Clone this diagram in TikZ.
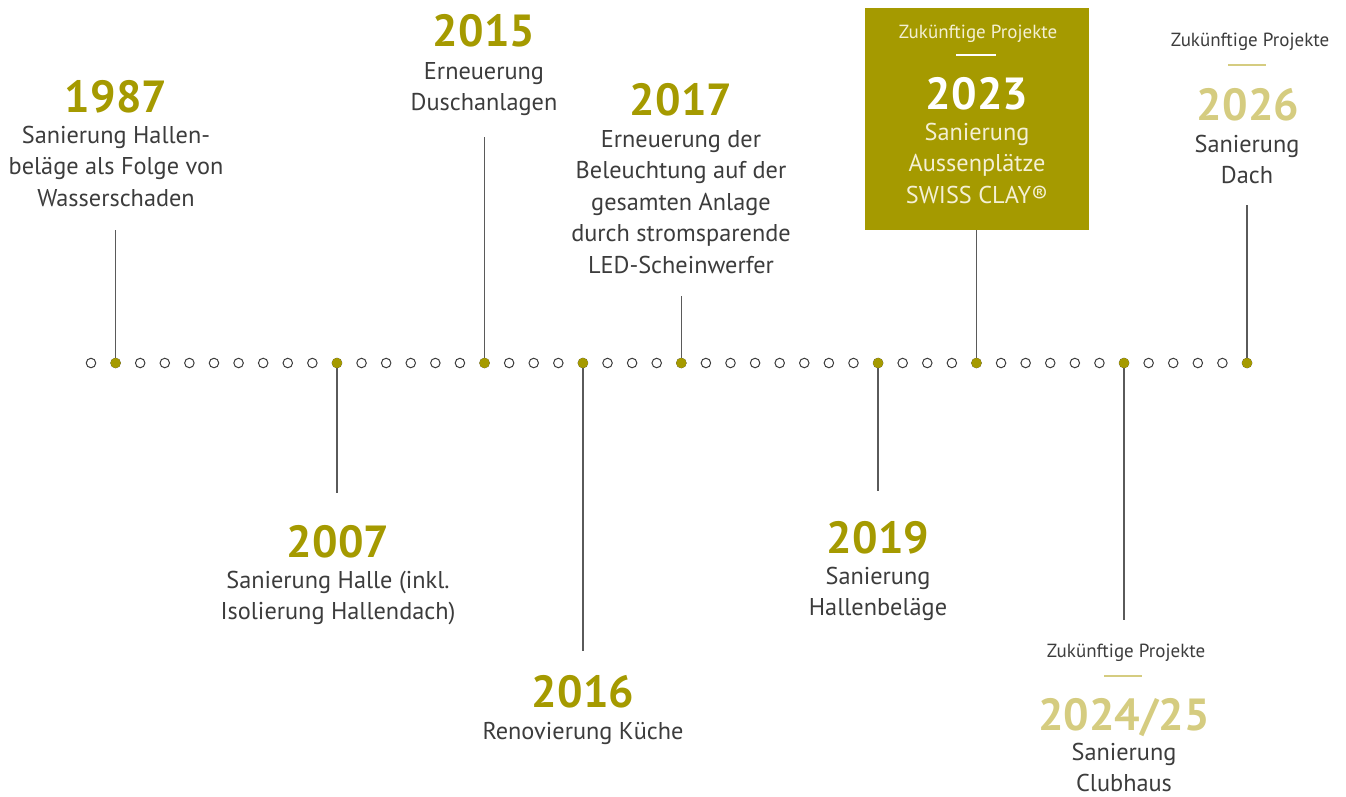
\documentclass[tikz,border=0pt]{standalone}
\usepackage{fontspec}
\setmainfont{PT Sans}
\definecolor{olive}{HTML}{A59A00}
\definecolor{lightolive}{HTML}{D5CC80}
\definecolor{txt}{HTML}{3C3C3C}
\definecolor{cream}{HTML}{F4F0D4}
\definecolor{linegray}{HTML}{5A5A5A}
\tikzset{
  opendot/.style={circle,draw=txt,fill=white,line width=1pt,inner sep=0pt,minimum size=9.5pt},
  fulldot/.style={circle,fill=olive,draw=none,inner sep=0pt,minimum size=10pt},
  stem/.style={draw=linegray,line width=1.2pt},
  yearolive/.style={font=\fontsize{45}{50}\selectfont\bfseries,text=olive,anchor=base,inner sep=0pt},
  yearlight/.style={font=\fontsize{45}{50}\selectfont\bfseries,text=lightolive,anchor=base,inner sep=0pt},
  desc/.style={font=\fontsize{24.3}{31.5}\selectfont,text=txt,align=center,anchor=north,yshift=22.05pt,inner sep=0pt},
  future/.style={font=\fontsize{19}{22}\selectfont,text=txt,anchor=base,inner sep=0pt},
  bar/.style={line width=2pt},
}
\begin{document}
\begin{tikzpicture}[x=1pt,y=-1pt]
\useasboundingbox (0,0) rectangle (1346,796);
% highlighted box
\fill[olive] (865,8) rectangle (1089,230);
% dots
\foreach \i in {0,...,47}{
  \node[opendot] (d\i) at ({91+\i*24.596},363) {};
}
\foreach \i in {1,10,16,20,24,32,36,42,47}{
  \node[fulldot] (d\i) at ({91+\i*24.596},363) {};
}
% 1987
\coordinate (c1) at (d1.center |- 0,230);
\draw[stem] (d1.center) -- (c1);
\node[yearolive] (y1987) at (116,112) {1987};
\node[desc] (t1987) at (116,143) {\strut Sanierung Hallen-\\beläge als Folge von\\Wasserschaden};
% 2015
\coordinate (c16) at (d16.center |- 0,137);
\draw[stem] (d16.center) -- (c16);
\node[yearolive] (y2015) at (484,46) {2015};
\node[desc] (t2015) at (484,79) {\strut Erneuerung\\Duschanlagen};
% 2017
\coordinate (c24) at (d24.center |- 0,296);
\draw[stem] (d24.center) -- (c24);
\node[yearolive] (y2017) at (681,115) {2017};
\node[desc] (t2017) at (681,147) {\strut Erneuerung der\\Beleuchtung auf der\\gesamten Anlage\\durch stromsparende\\LED-Scheinwerfer};
% 2023
\coordinate (c36) at (d36.center |- 0,230);
\draw[stem] (d36.center) -- (c36);
\node[future,text=cream] (f2023) at (978,38) {Zukünftige Projekte};
\draw[bar,white] (956,55) -- (996,55);
\node[yearolive,text=white] (y2023) at (977,109) {2023};
\node[desc,text=cream] (t2023) at (977,140) {\strut Sanierung\\Aussenplätze\\SWISS CLAY®};
% 2026
\coordinate (c47) at (d47.center |- 0,205);
\draw[stem] (d47.center) -- (c47);
\node[future] (f2026) at (1250,46) {Zukünftige Projekte};
\draw[bar,lightolive] (1228,65) -- (1266,65);
\node[yearlight] (y2026) at (1248,120) {2026};
\node[desc] (t2026) at (1247,152) {\strut Sanierung\\Dach};
% 2007
\coordinate (c10) at (d10.center |- 0,493);
\draw[stem] (d10.center) -- (c10);
\node[yearolive] (y2007) at (338,557) {2007};
\node[desc] (t2007) at (338,588) {\strut Sanierung Halle (inkl.\\Isolierung Hallendach)};
% 2016
\coordinate (c20) at (d20.center |- 0,651);
\draw[stem] (d20.center) -- (c20);
\node[yearolive] (y2016) at (583,707) {2016};
\node[desc] (t2016) at (583,739) {\strut Renovierung Küche};
% 2019
\coordinate (c32) at (d32.center |- 0,491);
\draw[stem] (d32.center) -- (c32);
\node[yearolive] (y2019) at (878,553) {2019};
\node[desc] (t2019) at (878,584) {\strut Sanierung\\Hallenbeläge};
% 2024/25
\coordinate (c42) at (d42.center |- 0,620);
\draw[stem] (d42.center) -- (c42);
\node[future] (f2024) at (1126,657) {Zukünftige Projekte};
\draw[bar,lightolive] (1104,676) -- (1142,676);
\node[yearlight] (y2024) at (1124,730) {2024/25};
\node[desc] (t2024) at (1124,760) {\strut Sanierung\\Clubhaus};
% redraw dots on top of stems
\foreach \i in {1,10,16,20,24,32,36,42,47}{
  \node[fulldot] at ({91+\i*24.596},363) {};
}
\end{tikzpicture}
\end{document}
